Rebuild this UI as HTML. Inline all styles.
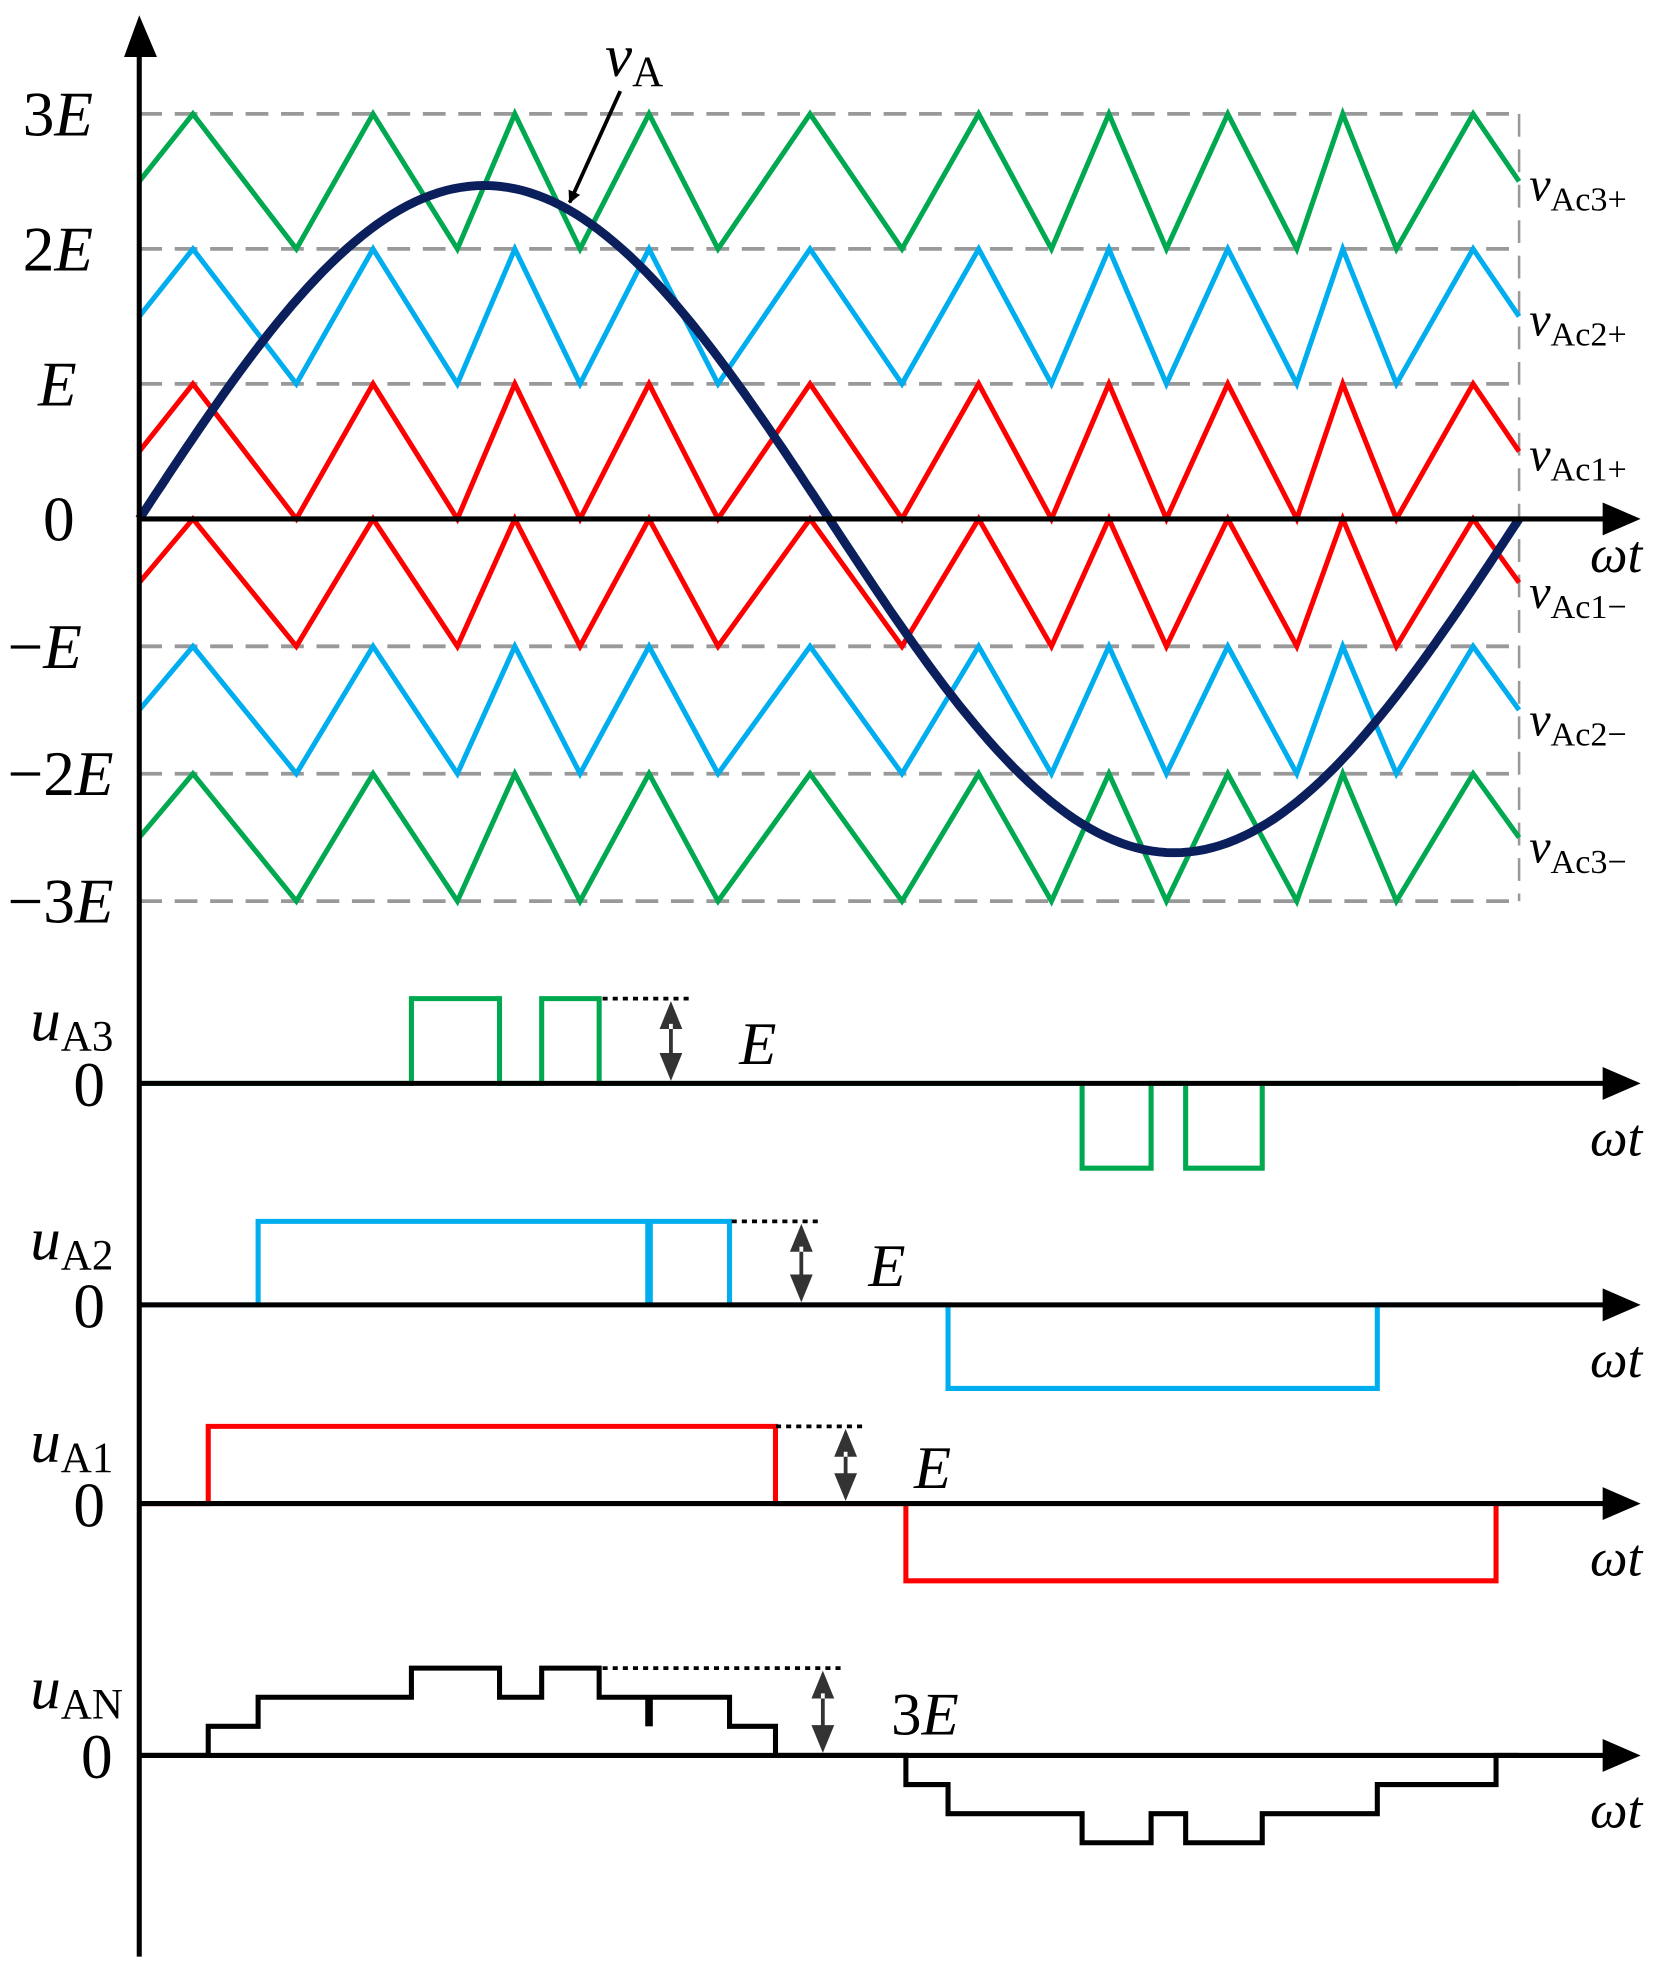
<!DOCTYPE html>
<html><head><meta charset="utf-8">
<style>
html,body{margin:0;padding:0;background:#fff;}
svg{display:block;}
text{font-family:"Liberation Serif",serif;fill:#000;}
</style></head>
<body>
<svg id="chart" width="1671" height="1982" viewBox="0 0 1320 1566" preserveAspectRatio="none" xmlns="http://www.w3.org/2000/svg">
<defs>
<marker id="ah" markerWidth="10" markerHeight="10" refX="9" refY="5" orient="auto" markerUnits="userSpaceOnUse"><path d="M0,0 L10,5 L0,10 z" fill="#000"/></marker>
</defs>
<g id="grid"></g>
<g id="carriers"></g>
<g id="panels"></g>
<g id="axes"></g>
<g id="labels"></g>
</svg>
<script>
// ---- data ----
const levelLabels = ["3E","2E","E","0","\u2212E","\u22122E","\u22123E"];
const levelValues = [3,2,1,0,-1,-2,-3];
const carrierPeaks = [14,61,98,133,175,219,253,284,314,348];   // degrees
const carrierValleys = [41,83,115,151,199,238,268,302,328];      // degrees
const sineAmplitudePos = 2.47;
const sineAmplitudeNeg = 2.62;
const carrierNames = ["vAc3+","vAc2+","vAc1+","vAc1\u2212","vAc2\u2212","vAc3\u2212"];
const carrierOffsets = [2,1,0,-1,-2,-3];
// pulse edges (degrees) and levels
const uA3Edges = [0,71,94,105,120,246,264,273,293,360];
const uA3Levels = [0,1,0,1,0,-1,0,-1,0];
const uA2Edges = [0,31,133,154,211,323,360];
const uA2Levels = [0,1,1,0,-1,0];
const uA1Edges = [0,18,166,200,354,360];
const uA1Levels = [0,1,0,-1,0];
const uANEdges = [0,18,31,71,94,105,120,154,166,200,211,246,264,273,293,323,354,360];
const uANLevels = [0,1,2,3,2,3,2,1,0,-1,-2,-3,-2,-3,-2,-1,0];
const notchTimes = [133];

// ---- scales ----
const X0=110, XW=1090;
const xs = d => X0 + d/360*XW;
const topY = v => v>=0 ? 410 - v*(410-90)/3 : 410 - v*(712-410)/3;
const NS="http://www.w3.org/2000/svg";
function el(tag, attrs, parent){const e=document.createElementNS(NS,tag);for(const k in attrs)e.setAttribute(k,attrs[k]);parent.appendChild(e);return e;}
const grid=document.getElementById('grid'), car=document.getElementById('carriers'), pan=document.getElementById('panels'), axes=document.getElementById('axes'), lab=document.getElementById('labels');

levelValues.forEach((v,i)=>{
  if(v!==0){
    const l=el('line',{x1:X0,x2:1200,y1:topY(v),y2:topY(v),stroke:'#999','stroke-width':3,'stroke-dasharray':'18,10'},grid);
    
    
  }
  const t=el('text',{x:v<0?6:(v===0?34:18),y:topY(v)+17,'font-size':50},lab);
  
  
  const s=levelLabels[i];
  if(s==="0"){t.textContent="0";}
  else{
    const pre=s.replace("E","");
    if(s==="E") t.setAttribute('x',30);
    const a=el('tspan',{},t);a.textContent=pre;
    const b=el('tspan',{'font-style':'italic'},t);b.textContent="E";
  }
});
const rv=el('line',{x1:1200,x2:1200,y1:90,y2:712,stroke:'#999','stroke-width':2,'stroke-dasharray':'18,10'},grid);



const pts=[[0,0.5]];
const all=carrierPeaks.map(d=>[d,1]).concat(carrierValleys.map(d=>[d,0])).sort((a,b)=>a[0]-b[0]);
all.forEach(p=>pts.push(p)); pts.push([360,0.5]);
const colors=['#00a84f','#00aeef','#ff0000','#ff0000','#00aeef','#00a84f'];
carrierOffsets.forEach((o,i)=>{
  const d=pts.map(p=>xs(p[0]).toFixed(1)+','+topY(o+p[1]).toFixed(1)).join(' ');
  const pl=el('polyline',{points:d,fill:'none',stroke:colors[i],'stroke-width':4,'stroke-linejoin':'miter'},car);
  
  
  const yl=topY(o+0.5)+ (i<3? 15:20);
  const t=el('text',{x:1208,y:yl,'font-size':38},lab);
  
  
  const a=el('tspan',{'font-style':'italic'},t);a.textContent='v';
  const b=el('tspan',{'font-size':27,dy:8},t);b.textContent=carrierNames[i].slice(1);
});
let sp=[];for(let d=0;d<=360;d+=2){const s=Math.sin(d*Math.PI/180);sp.push(xs(d).toFixed(1)+','+topY((s>=0?sineAmplitudePos:sineAmplitudeNeg)*s).toFixed(1));}
const sine=el('polyline',{points:sp.join(' '),fill:'none',stroke:'#0b1f5c','stroke-width':7},car);


const vt=el('text',{x:478,y:60,'font-size':48},lab);


const v1=el('tspan',{'font-style':'italic'},vt);v1.textContent='v';
const v2=el('tspan',{'font-size':34,dy:8},vt);v2.textContent='A';
const va=el('line',{x1:490,y1:72,x2:450,y2:160,stroke:'#000','stroke-width':3,'marker-end':'url(#ah)'},lab);



function axis(y,name){
  const l=el('line',{x1:110,x2:1268,y1:y,y2:y,stroke:'#000','stroke-width':4},axes);
  
  
  const a=el('path',{d:`M1266,${y-13} L1296,${y} L1266,${y+13} z`,fill:'#000'},axes);
  
  
}
const ya=el('line',{x1:110,x2:110,y1:40,y2:1546,stroke:'#000','stroke-width':4},axes);


const yah=el('path',{d:'M98,45 L110,12 L124,45 z',fill:'#000'},axes);


axis(410,'x-axis-top');

const panels=[
 {name:'uA3',edges:uA3Edges,levels:uA3Levels,base:856,step:67,color:'#00a84f',lab:'A3',ann:[476,545,'E',584],ly:822},
 {name:'uA2',edges:uA2Edges,levels:uA2Levels,base:1031,step:66,color:'#00aeef',lab:'A2',ann:[578,648,'E',686],ly:995},
 {name:'uA1',edges:uA1Edges,levels:uA1Levels,base:1188,step:61,color:'#ff0000',lab:'A1',ann:[613,683,'E',722],ly:1155},
 {name:'uAN',edges:uANEdges,levels:uANLevels,base:1387,step:23,color:'#000',lab:'AN',ann:[476,665,'3E',704],ly:1350}
];
panels.forEach(p=>{
  axis(p.base,'x-axis-'+p.name);
  let d='';
  for(let i=0;i<p.levels.length;i++){
    const y=p.base-p.levels[i]*p.step;
    d+=(i===0?'M':'L')+xs(p.edges[i]).toFixed(1)+','+y+' L'+xs(p.edges[i+1]).toFixed(1)+','+y+' ';
  }
  const w=el('path',{d:d,fill:'none',stroke:p.color,'stroke-width':4},pan);
  
  
  if(p.name==='uA2'||p.name==='uAN'){
    notchTimes.forEach(nt=>{
      const y1=p.name==='uA2'?p.base-p.step:p.base-2*p.step;
      const y2=p.name==='uA2'?p.base:p.base-p.step;
      const n=el('line',{x1:xs(nt),x2:xs(nt),y1:y1,y2:y2,stroke:p.color,'stroke-width':6},pan);
      
      
    });
  }
  const top=p.base-(p.name==='uAN'?3*p.step:p.step);
  const dl=el('line',{x1:p.ann[0],x2:p.ann[1],y1:top,y2:top,stroke:'#000','stroke-width':3,'stroke-dasharray':'4,4'},pan);
  
  
  const ax=p.ann[1]-15;
  const ar=el('path',{d:`M${ax},${top+2} L${ax-9},${top+24} L${ax+9},${top+24} z M${ax},${p.base-2} L${ax-9},${p.base-24} L${ax+9},${p.base-24} z M${ax-1.5},${top+20} h3 V${p.base-20} h-3 z`,fill:'#333'},pan);
  
  
  const at=el('text',{x:p.ann[3],y:(top+p.base)/2+18,'font-size':48},lab);
  
  
  if(p.ann[2].length>1){const a=el('tspan',{},at);a.textContent='3';}
  const e=el('tspan',{'font-style':'italic'},at);e.textContent='E';
  const nl=el('text',{x:24,y:p.ly,'font-size':48},lab);
  
  
  const u=el('tspan',{'font-style':'italic'},nl);u.textContent='u';
  const s=el('tspan',{'font-size':34,dy:8},nl);s.textContent=p.lab;
  const z=el('text',{x:p.name==='uAN'?64:58,y:p.base+18,'font-size':50},lab);
  z.textContent='0';
  
  
  const wt=el('text',{x:1256,y:p.base+57,'font-size':42,'font-style':'italic'},lab);
  wt.textContent='\u03c9t';
  
  
});
const wt0=el('text',{x:1256,y:452,'font-size':42,'font-style':'italic'},lab);
wt0.textContent='\u03c9t';


</script>
</body></html>
